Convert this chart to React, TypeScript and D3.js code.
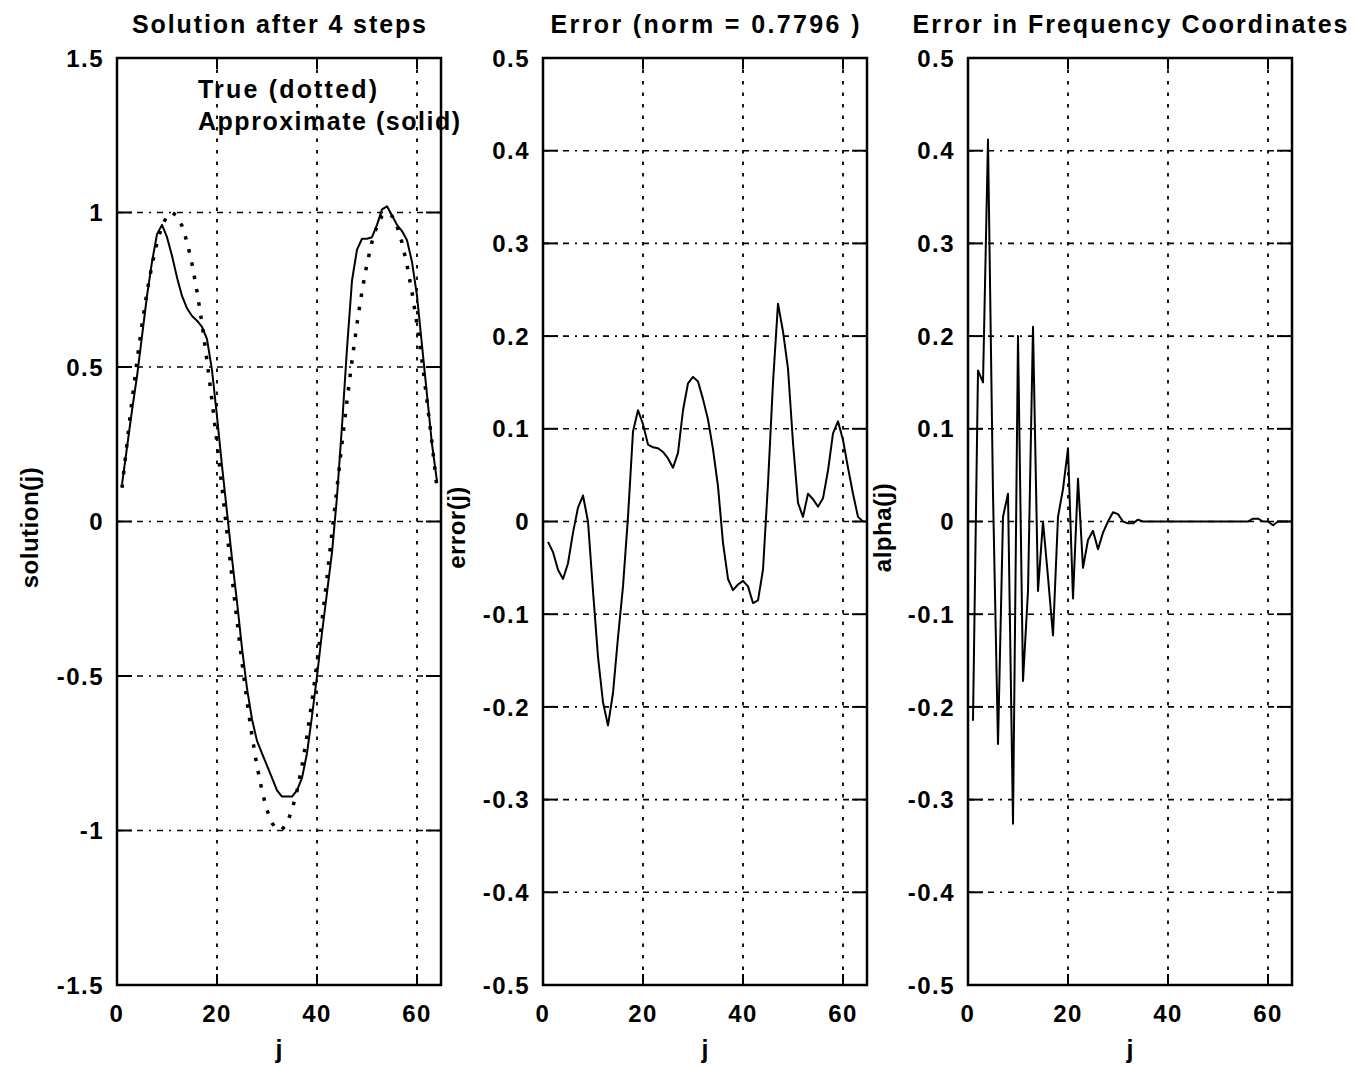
import React from "react";
import * as d3 from "d3";

// sample index j = 1..64
const jValues = d3.range(1, 65);

// true solution (dotted)
const trueSolution = [
  0.109, 0.253, 0.391, 0.52, 0.638, 0.742, 0.83, 0.903, 0.956, 0.989, 1.0, 0.989, 0.957, 0.905, 0.834, 0.745,
  0.64, 0.52, 0.391, 0.253, 0.109, -0.036, -0.181, -0.321, -0.456, -0.582, -0.694, -0.791, -0.872, -0.934, -0.976, -0.997,
  -0.997, -0.976, -0.934, -0.872, -0.791, -0.694, -0.582, -0.456, -0.321, -0.181, -0.036, 0.109, 0.253, 0.391, 0.52, 0.64,
  0.745, 0.834, 0.905, 0.957, 0.989, 1.0, 0.989, 0.956, 0.903, 0.83, 0.742, 0.638, 0.52, 0.391, 0.253, 0.109,
];

// approximate solution (solid)
const approxSolution = [
  0.12, 0.24, 0.36, 0.47, 0.6, 0.73, 0.84, 0.93, 0.96, 0.92, 0.86, 0.79, 0.73, 0.69, 0.665, 0.65,
  0.63, 0.59, 0.49, 0.34, 0.18, 0.03, -0.12, -0.26, -0.41, -0.54, -0.64, -0.71, -0.75, -0.79, -0.83, -0.87,
  -0.89, -0.89, -0.89, -0.87, -0.83, -0.75, -0.63, -0.5, -0.36, -0.23, -0.1, 0.08, 0.31, 0.56, 0.78, 0.88,
  0.915, 0.915, 0.92, 0.96, 1.01, 1.02, 0.99, 0.96, 0.94, 0.91, 0.84, 0.73, 0.57, 0.41, 0.25, 0.13,
];

// error(j)
const errorValues = [
  -0.022, -0.033, -0.052, -0.062, -0.045, -0.012, 0.015, 0.028, 0.0, -0.075, -0.146, -0.195, -0.22, -0.185, -0.125, -0.07,
  0.005, 0.097, 0.12, 0.105, 0.083, 0.08, 0.079, 0.075, 0.068, 0.058, 0.074, 0.12, 0.149, 0.156, 0.151, 0.132,
  0.11, 0.078, 0.038, -0.023, -0.062, -0.074, -0.068, -0.064, -0.07, -0.088, -0.085, -0.052, 0.041, 0.15, 0.235, 0.205,
  0.165, 0.085, 0.02, 0.005, 0.03, 0.024, 0.016, 0.025, 0.055, 0.095, 0.108, 0.088, 0.058, 0.03, 0.005, 0.0,
];

// alpha(j), error in frequency coordinates
const alphaValues = [
  -0.215, 0.163, 0.15, 0.412, 0.03, -0.24, 0.005, 0.03, -0.326, 0.2, -0.172, -0.075, 0.21, -0.075, 0.0, -0.06,
  -0.123, 0.005, 0.035, 0.079, -0.083, 0.046, -0.05, -0.02, -0.01, -0.03, -0.012, 0.0, 0.01, 0.008, 0.0, -0.002,
  -0.002, 0.002, 0.0, 0.0, 0.0, 0.0, 0.0, 0.0, 0.0, 0.0, 0.0, 0.0, 0.0, 0.0, 0.0, 0.0,
  0.0, 0.0, 0.0, 0.0, 0.0, 0.0, 0.0, 0.0, 0.003, 0.003, 0.0, 0.0, -0.004, 0.0, 0.0, 0.0,
];

const jTicks = [0, 20, 40, 60];
const solutionTicks = [-1.5, -1, -0.5, 0, 0.5, 1, 1.5];
const errorTicks = [-0.5, -0.4, -0.3, -0.2, -0.1, 0, 0.1, 0.2, 0.3, 0.4, 0.5];

const TOP = 58;
const BOTTOM = 985;
const WIDTH = 324;

type Series = { values: number[]; dotted?: boolean };

function Panel({ left, title, titleLength, yLabel, yLabelX, yTicks, series, children }: any) {
  const x = d3.scaleLinear().domain([0, 64.8]).range([left, left + WIDTH]);
  const y = d3
    .scaleLinear()
    .domain([yTicks[0], yTicks[yTicks.length - 1]])
    .range([BOTTOM, TOP]);
  const line = d3
    .line<number>()
    .x((d, i) => x(jValues[i]))
    .y((d) => y(d));
  const right = left + WIDTH;

  return (
    <g>
      {/* grid */}
      {yTicks.slice(1, -1).map((t: number) => (
        <line key={"gy" + t} x1={left} x2={right} y1={y(t)} y2={y(t)}
          stroke="#000" strokeWidth={1.6} strokeDasharray="6,6,2,6" />
      ))}
      {jTicks.slice(1).map((t) => (
        <line key={"gx" + t} x1={x(t)} x2={x(t)} y1={TOP} y2={BOTTOM}
          stroke="#000" strokeWidth={1.8} strokeDasharray="3.5,8" />
      ))}
      {/* data */}
      {(series as Series[]).map((s, i) => (
        <path key={"s" + i} d={line(s.values) || ""} fill="none" stroke="#000"
          strokeWidth={s.dotted ? 3.5 : 2}
          strokeDasharray={s.dotted ? "3.5,10" : undefined}
          strokeLinejoin="round" />
      ))}
      {/* ticks */}
      {yTicks.map((t: number) => (
        <g key={"ty" + t}>
          <line x1={left} x2={left + 15} y1={y(t)} y2={y(t)} stroke="#000" strokeWidth={2} />
          <line x1={right - 15} x2={right} y1={y(t)} y2={y(t)} stroke="#000" strokeWidth={2} />
          <text x={left - 13} y={y(t)} dy="0.36em" textAnchor="end" fontSize={24} letterSpacing={1.5}>
            {String(t)}
          </text>
        </g>
      ))}
      {jTicks.map((t) => (
        <g key={"tx" + t}>
          <line x1={x(t)} x2={x(t)} y1={BOTTOM} y2={BOTTOM - 11} stroke="#000" strokeWidth={2} />
          <line x1={x(t)} x2={x(t)} y1={TOP} y2={TOP + 11} stroke="#000" strokeWidth={2} />
          <text x={x(t)} y={1022} textAnchor="middle" fontSize={24} letterSpacing={1.5}>
            {String(t)}
          </text>
        </g>
      ))}
      {/* frame */}
      <rect x={left} y={TOP} width={WIDTH} height={BOTTOM - TOP} fill="none" stroke="#000" strokeWidth={2.5} />
      {/* labels */}
      <text x={left + WIDTH / 2} y={33} textAnchor="middle" fontSize={25}
        textLength={titleLength} lengthAdjust="spacing">
        {title}
      </text>
      <text x={left + WIDTH / 2} y={1058} textAnchor="middle" fontSize={25}>j</text>
      <text transform={`translate(${yLabelX},${(TOP + BOTTOM) / 2 + 6}) rotate(-90)`}
        textAnchor="middle" fontSize={24} letterSpacing={0.5}>
        {yLabel}
      </text>
      {children}
    </g>
  );
}

export default function App() {
  return (
    <svg width={1354} height={1066}
      style={{ position: "absolute", left: 0, top: 0, background: "#fff" }}
      fontFamily="'Liberation Sans', Arial, Helvetica, sans-serif" fontWeight="bold">
      <rect width={1354} height={1066} fill="#fff" />
      <Panel left={117} title="Solution after 4 steps" titleLength={294}
        yLabel="solution(j)" yLabelX={38} yTicks={solutionTicks}
        series={[{ values: trueSolution, dotted: true }, { values: approxSolution }]}>
        <text x={198} y={98} fontSize={25} textLength={179} lengthAdjust="spacing">True (dotted)</text>
        <text x={198} y={130} fontSize={25} textLength={262} lengthAdjust="spacing">Approximate (solid)</text>
      </Panel>
      <Panel left={543} title="Error (norm = 0.7796 )" titleLength={309}
        yLabel="error(j)" yLabelX={465} yTicks={errorTicks}
        series={[{ values: errorValues }]} />
      <Panel left={968} title="Error in Frequency Coordinates" titleLength={435}
        yLabel="alpha(j)" yLabelX={891} yTicks={errorTicks}
        series={[{ values: alphaValues }]} />
    </svg>
  );
}
